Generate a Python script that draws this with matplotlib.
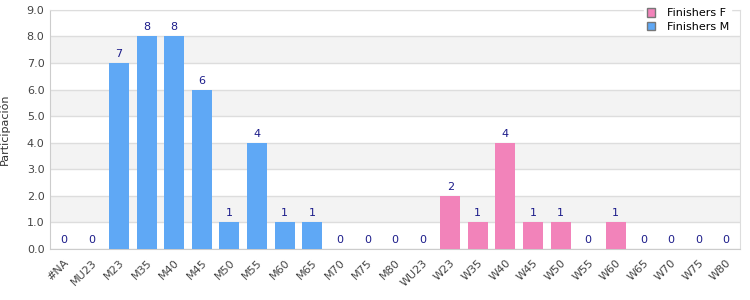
import matplotlib.pyplot as plt
import numpy as np

categories = ['#NA', 'MU23', 'M23', 'M35', 'M40', 'M45', 'M50', 'M55', 'M60', 'M65',
              'M70', 'M75', 'M80', 'WU23', 'W23', 'W35', 'W40', 'W45', 'W50', 'W55',
              'W60', 'W65', 'W70', 'W75', 'W80']
# None = category not in that series
finishers_m = [0, 0, 7, 8, 8, 6, 1, 4, 1, 1, 0, 0, 0,
               None, None, None, None, None, None, None, None, None, None, None, None]
finishers_f = [None] * 13 + [0, 2, 1, 4, 1, 1, 0, 1, 0, 0, 0, 0]

col_m = '#5fa8f5'
col_f = '#f283ba'

fig = plt.figure(figsize=(7.5, 3), dpi=100)
ax = fig.add_axes([0.0667, 0.17, 0.92, 0.797])

x = np.arange(len(categories))
for vals, col, name in [(finishers_f, col_f, 'Finishers F'), (finishers_m, col_m, 'Finishers M')]:
    xi = [i for i, v in enumerate(vals) if v is not None]
    vi = [v for v in vals if v is not None]
    ax.bar(xi, vi, width=0.72, color=col, label=name, zorder=3)
    for a, b in zip(xi, vi):
        ax.text(a, b + 0.15, str(b), ha='center', va='bottom', fontsize=8,
                color='#1c1c8a', zorder=4)

# alternating bands
for y0 in range(1, 9, 2):
    ax.axhspan(y0, y0 + 1, color='#f3f3f3', zorder=0, lw=0)
ax.yaxis.grid(True, color='#dddddd', lw=1, zorder=1)
ax.set_axisbelow(True)

ax.set_xlim(-0.5, len(categories) - 0.5)
ax.set_ylim(0, 9)
ax.set_yticks(np.arange(0, 10, 1))
ax.set_yticklabels([f'{v:.1f}' for v in range(10)])
ax.set_xticks(x)
ax.set_xticklabels(categories, rotation=45, ha='right', rotation_mode='anchor')
ax.tick_params(axis='both', labelsize=8, colors='#444444', length=0, pad=4)
ax.tick_params(axis='x', pad=6)
for s in ax.spines.values():
    s.set_color('#dddddd')
ax.spines['left'].set_color('#cccccc')
ax.spines['bottom'].set_color('#cccccc')

ax.set_ylabel('Participación', fontsize=8, color='#333333', labelpad=12)

leg = ax.legend(loc='upper right', bbox_to_anchor=(0.995, 1.04), fontsize=8,
                frameon=True, fancybox=False, framealpha=1, edgecolor='white',
                handlelength=0.8, handleheight=0.8, handletextpad=1.0,
                borderpad=0.2, labelspacing=0.3)
for h in leg.legend_handles:
    h.set_edgecolor('#777777')
    h.set_linewidth(1)
leg.set_zorder(10)

fig.savefig('out.png', dpi=100)
